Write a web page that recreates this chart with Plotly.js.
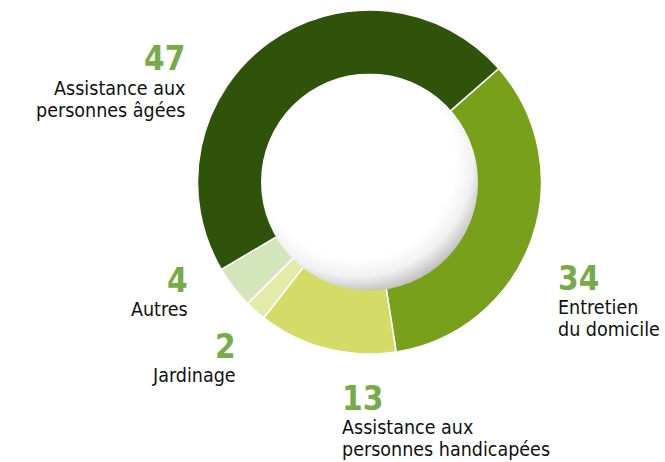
<!DOCTYPE html>
<html>
<head>
<meta charset="utf-8">
<script src="https://cdn.plot.ly/plotly-3.0.1.min.js"></script>
<style>html,body{margin:0;padding:0;background:#fff;}#chart{width:665px;height:462px;}</style>
</head>
<body>
<div id="chart"></div>
<script>
// ---- data ----
const categories = ['Entretien<br>du domicile', 'Assistance aux<br>personnes handicapées', 'Jardinage', 'Autres', 'Assistance aux<br>personnes âgées'];
const values = [34, 13, 2, 4, 47];
const sliceColors = ['#78a01b', '#d4db66', '#e4eaa9', '#d5e5bb', '#2f530b'];

// ---- label placement (pixels) ----
const W = 665, H = 462;
const labelPos = [
  {x: 556, align: 'left',  numBase: 290, textBase: 314},
  {x: 340, align: 'left',  numBase: 410, textBase: 434},
  {x: 238, align: 'right', numBase: 358, textBase: 382},
  {x: 190, align: 'right', numBase: 292, textBase: 316},
  {x: 187, align: 'right', numBase: 70,  textBase: 95}
];
const FONT = '"DejaVu Sans Condensed", "DejaVu Sans", sans-serif';
const numSize = 33, txtSize = 19.5, baseSize = 17;

const annotations = [];
categories.forEach((cat, i) => {
  const p = labelPos[i];
  annotations.push({
    xref: 'paper', yref: 'paper', x: p.x / W, y: 1 - (p.numBase - 0.93 * numSize - 2) / H,
    xanchor: p.align, yanchor: 'top', showarrow: false, align: p.align,
    text: '<b>' + values[i] + '</b>',
    font: {family: FONT, size: numSize, color: '#77ab47'}
  });
  const lines = cat.split('<br>').map(l => '<span style="font-size:' + txtSize + 'px">' + l + '</span>');
  annotations.push({
    xref: 'paper', yref: 'paper', x: p.x / W, y: 1 - (p.textBase - 0.93 * txtSize - 2) / H,
    xanchor: p.align, yanchor: 'top', showarrow: false, align: p.align,
    text: lines.join('<br>'),
    font: {family: FONT, size: baseSize, color: '#111111'}
  });
});

// inner shaded disc
const cx = 369.5, cy = 182, rOut = 172, rIn = 108.5;
const disc = "data:image/svg+xml;utf8," + encodeURIComponent(
  '<svg xmlns="http://www.w3.org/2000/svg" width="200" height="200" viewBox="0 0 200 200">' +
  '<defs><radialGradient id="g" cx="44%" cy="40%" r="61%">' +
  '<stop offset="0" stop-color="#ffffff"/><stop offset="0.74" stop-color="#ffffff"/>' +
  '<stop offset="0.88" stop-color="#f1f1f1"/><stop offset="1" stop-color="#c2c2c2"/>' +
  '</radialGradient></defs><circle cx="100" cy="100" r="100" fill="url(#g)"/></svg>');

const trace = {
  type: 'pie',
  values: values,
  labels: categories,
  sort: false,
  direction: 'clockwise',
  rotation: 48.7,
  hole: 0.6,
  textinfo: 'none',
  hoverinfo: 'none',
  marker: {colors: sliceColors, line: {color: '#ffffff', width: 1.5}},
  domain: {x: [(cx - rOut) / W, (cx + rOut) / W], y: [1 - (cy + rOut) / H, 1 - (cy - rOut) / H]},
  showlegend: false
};

const layout = {
  width: W, height: H,
  margin: {l: 0, r: 0, t: 0, b: 0},
  paper_bgcolor: '#ffffff',
  plot_bgcolor: '#ffffff',
  showlegend: false,
  annotations: annotations,
  images: [{
    source: disc, xref: 'paper', yref: 'paper',
    x: (cx - rIn) / W, y: 1 - (cy - rIn) / H,
    sizex: 2 * rIn / W, sizey: 2 * rIn / H,
    xanchor: 'left', yanchor: 'top', sizing: 'stretch', layer: 'above'
  }]
};

Plotly.newPlot('chart', [trace], layout, {displayModeBar: false, staticPlot: true});
</script>
</body>
</html>
